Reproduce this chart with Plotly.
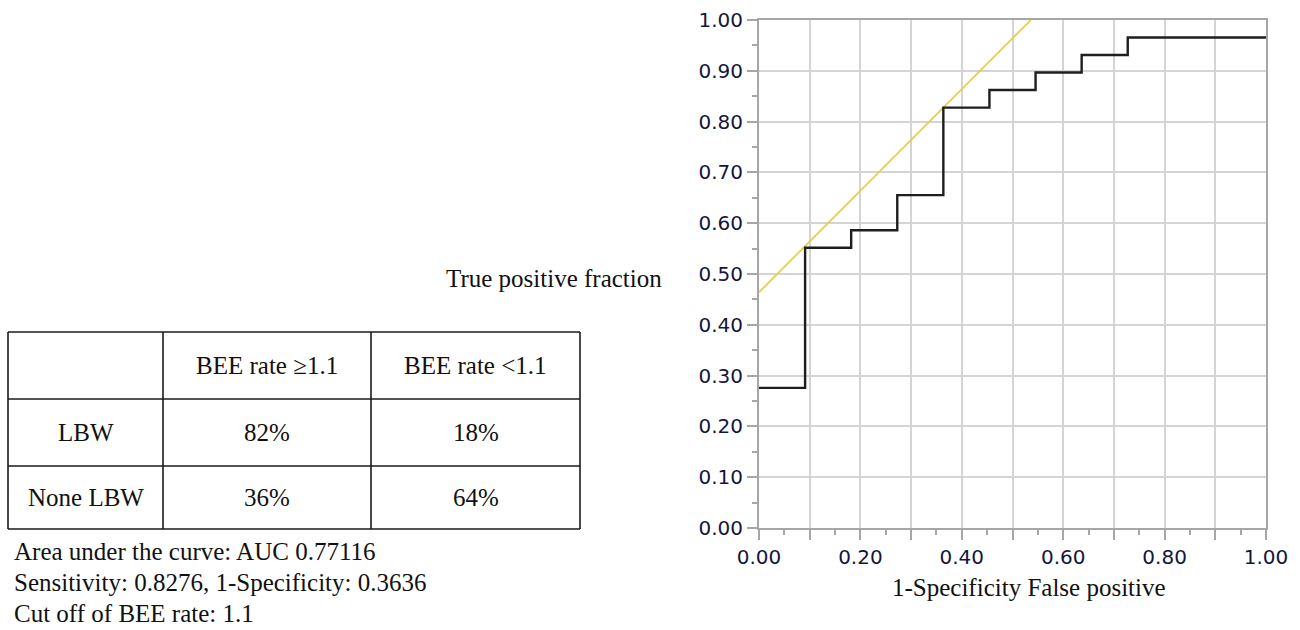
import plotly.graph_objects as go

W, H = 1300, 630

# ROC curve step points (1-specificity, sensitivity)
fpr = [0.0, 0.0909, 0.1818, 0.2727, 0.3636, 0.4545, 0.5455, 0.6364, 0.7273, 1.0]
tpr = [0.2759, 0.5517, 0.5862, 0.6552, 0.8276, 0.8621, 0.8966, 0.9310, 0.9655, 0.9655]

# Tangent line at the cut-off
tangent_x = [0.0, 0.536]
tangent_y = [0.464, 1.0]

# Axis ticks
major_vals = [0.0, 0.1, 0.2, 0.3, 0.4, 0.5, 0.6, 0.7, 0.8, 0.9, 1.0]
minor_vals = [0.05, 0.15, 0.25, 0.35, 0.45, 0.55, 0.65, 0.75, 0.85, 0.95]
y_ticktext = ["0.00", "0.10", "0.20", "0.30", "0.40", "0.50", "0.60", "0.70", "0.80", "0.90", "1.00"]
x_ticktext = ["0.00", "", "0.20", "", "0.40", "", "0.60", "", "0.80", "", "1.00"]

# Table contents
col_labels = ["", "BEE rate \u22651.1", "BEE rate <1.1"]
row_labels = ["LBW", "None LBW"]
ge_values = ["82%", "36%"]
lt_values = ["18%", "64%"]

notes = [
    "Area under the curve: AUC 0.77116",
    "Sensitivity: 0.8276, 1-Specificity: 0.3636",
    "Cut off of BEE rate: 1.1",
]

x_title = "1-Specificity False positive"
y_title = "True positive fraction"

# Layout geometry (pixels)
plot_l, plot_r, plot_t, plot_b = 759, 1266, 20, 528
tbl_x = [8, 163, 371, 580]
tbl_y = [332, 399, 466, 529]


def px(x):
    return x / W


def py(y):
    return 1 - y / H


serif = "Liberation Serif, Times New Roman, serif"
tick_font = dict(family="DejaVu Sans, Verdana, sans-serif", size=20, color="#15163c")
axis_gray = "#a6a6a6"
grid_gray = "#d4d4d4"

fig = go.Figure()
fig.add_trace(go.Scatter(x=tangent_x, y=tangent_y, mode="lines",
                         line=dict(color="#e0d43a", width=1.8), showlegend=False,
                         hoverinfo="skip"))
fig.add_trace(go.Scatter(x=fpr, y=tpr, mode="lines", line_shape="hv",
                         line=dict(color="#1e1e1e", width=2.4), showlegend=False))

common_axis = dict(
    range=[0, 1], showgrid=True, gridcolor=grid_gray, gridwidth=1.5,
    showline=True, linecolor=axis_gray, linewidth=2, mirror=True,
    ticks="outside", ticklen=10, tickwidth=1.5, tickcolor=axis_gray,
    tickmode="array", tickvals=major_vals, tickfont=tick_font, zeroline=False,
    minor=dict(ticks="outside", ticklen=5, tickwidth=1.5, tickcolor=axis_gray,
               tickmode="array", tickvals=minor_vals, showgrid=False),
    fixedrange=True, automargin=False,
)

fig.update_xaxes(**common_axis, ticktext=x_ticktext,
                 domain=[px(plot_l), px(plot_r)])
fig.update_yaxes(**common_axis, ticktext=y_ticktext,
                 domain=[py(plot_b), py(plot_t)])

shapes = []
annotations = []

# Table grid lines
for xv in tbl_x:
    shapes.append(dict(type="line", xref="paper", yref="paper",
                       x0=px(xv), x1=px(xv), y0=py(tbl_y[0]), y1=py(tbl_y[-1]),
                       line=dict(color="#1a1a1a", width=1.6)))
for yv in tbl_y:
    shapes.append(dict(type="line", xref="paper", yref="paper",
                       x0=px(tbl_x[0]), x1=px(tbl_x[-1]), y0=py(yv), y1=py(yv),
                       line=dict(color="#1a1a1a", width=1.6)))

cells = [col_labels] + [[row_labels[i], ge_values[i], lt_values[i]] for i in range(len(row_labels))]
for r, row in enumerate(cells):
    cy = (tbl_y[r] + tbl_y[r + 1]) / 2
    for c, txt in enumerate(row):
        if not txt:
            continue
        cx = (tbl_x[c] + tbl_x[c + 1]) / 2
        annotations.append(dict(x=px(cx), y=py(cy), xref="paper", yref="paper",
                                text=txt, showarrow=False, xanchor="center", yanchor="middle",
                                font=dict(family=serif, size=25, color="#111111")))

note_y = [551, 582, 613]
for t, yv in zip(notes, note_y):
    annotations.append(dict(x=px(12), y=py(yv), xref="paper", yref="paper", text=t,
                            showarrow=False, xanchor="left", yanchor="middle",
                            font=dict(family=serif, size=25, color="#111111")))

annotations.append(dict(x=px(664), y=py(278), xref="paper", yref="paper", text=y_title,
                        showarrow=False, xanchor="right", yanchor="middle",
                        font=dict(family=serif, size=25, color="#111111")))
annotations.append(dict(x=px(1029), y=py(587), xref="paper", yref="paper",
                        text=x_title, showarrow=False, xanchor="center", yanchor="middle",
                        font=dict(family=serif, size=25, color="#111111")))

fig.update_layout(
    width=W, height=H, autosize=False,
    margin=dict(l=0, r=0, t=0, b=0, pad=0, autoexpand=False),
    paper_bgcolor="white", plot_bgcolor="white",
    shapes=shapes, annotations=annotations,
    showlegend=False,
)

fig.write_html("out.html")
